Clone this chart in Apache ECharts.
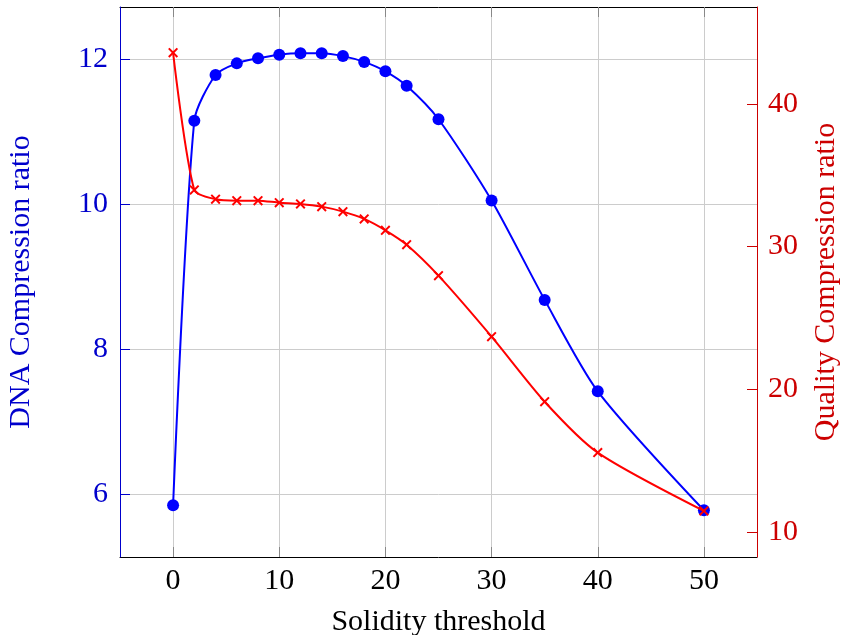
<!DOCTYPE html>
<html>
<head>
<meta charset="utf-8">
<script src="https://cdn.jsdelivr.net/npm/echarts@6/dist/echarts.min.js"></script>
<style>html,body{margin:0;padding:0;background:#fff;}#c{width:843px;height:635px;}</style>
</head>
<body>
<div id="c"></div>
<script>
var thresholds = [0, 2, 4, 6, 8, 10, 12, 14, 16, 18, 20, 22, 25, 30, 35, 40, 50];
var dnaRatio = [5.85, 11.15, 11.78, 11.94, 12.01, 12.06, 12.08, 12.08, 12.04, 11.96, 11.83, 11.63, 11.17, 10.05, 8.68, 7.42, 5.78];
var qualityRatio = [43.6, 33.97, 33.32, 33.22, 33.22, 33.08, 32.99, 32.80, 32.45, 31.94, 31.14, 30.13, 27.96, 23.68, 19.12, 15.55, 11.46];
var xTitle = 'Solidity threshold';
var leftTitle = 'DNA Compression ratio';
var rightTitle = 'Quality Compression ratio';

var FONT = 'Liberation Serif';
var BLUE = '#0000ff', BLUE_T = '#0000cc';
var RED = '#ff0000', RED_T = '#cc0000';
var crossPath = 'path://M0,1.4L1.4,0L5,3.6L8.6,0L10,1.4L6.4,5L10,8.6L8.6,10L5,6.4L1.4,10L0,8.6L3.6,5Z';

function pairs(xs, ys) { return xs.map(function (x, i) { return [x, ys[i]]; }); }
function tenFmt(v) { return (Math.abs(v % 10) < 1e-9) ? String(v) : ''; }

var chart = echarts.init(document.getElementById('c'), null, { renderer: 'canvas' });
chart.setOption({
  animation: false,
  backgroundColor: '#fff',
  grid: { left: 120, right: 86, top: 7, bottom: 78, containLabel: false, outerBoundsMode: 'none' },
  xAxis: [{
    type: 'value', min: -5, max: 55, splitNumber: 6, position: 'bottom', z: 0,
    name: xTitle, nameLocation: 'middle', nameGap: 50,
    nameTextStyle: { fontFamily: FONT, fontSize: 30, color: '#000' },
    axisLine: { show: true, onZero: false, lineStyle: { color: '#000', width: 1 } },
    axisTick: { show: true, inside: true, length: 10, lineStyle: { color: '#888', width: 1 } },
    axisLabel: { formatter: tenFmt, showMinLabel: false, showMaxLabel: false, margin: 9,
      fontFamily: FONT, fontSize: 30, color: '#000' },
    splitLine: { show: true, showMinLine: false, showMaxLine: false, lineStyle: { color: '#cccccc', width: 1 } }
  }, {
    type: 'value', min: -5, max: 55, splitNumber: 6, position: 'top', z: 0,
    axisLine: { show: true, onZero: false, lineStyle: { color: '#000', width: 1 } },
    axisTick: { show: true, inside: true, length: 10, lineStyle: { color: '#888', width: 1 } },
    axisLabel: { show: false },
    splitLine: { show: false }
  }],
  yAxis: [{
    type: 'value', min: 5.136, max: 12.717, splitNumber: 4, position: 'left', z: 1,
    name: leftTitle, nameLocation: 'middle', nameRotate: 90, nameGap: 84,
    nameTextStyle: { fontFamily: FONT, fontSize: 30, color: BLUE_T },
    axisLine: { show: true, onZero: false, lineStyle: { color: BLUE_T, width: 1 } },
    axisTick: { show: true, inside: true, length: 10, lineStyle: { color: BLUE_T, width: 1 } },
    axisLabel: { showMinLabel: false, showMaxLabel: false, margin: 12,
      fontFamily: FONT, fontSize: 30, color: BLUE_T },
    splitLine: { show: true, showMinLine: false, showMaxLine: false, lineStyle: { color: '#cccccc', width: 1 } }
  }, {
    type: 'value', min: 8.23, max: 46.8, splitNumber: 4, position: 'right', z: 1,
    name: rightTitle, nameLocation: 'middle', nameRotate: 90, nameGap: 54,
    nameTextStyle: { fontFamily: FONT, fontSize: 30, color: RED_T },
    axisLine: { show: true, onZero: false, lineStyle: { color: RED_T, width: 1 } },
    axisTick: { show: true, inside: true, length: 10, lineStyle: { color: RED_T, width: 1 } },
    axisLabel: { showMinLabel: false, showMaxLabel: false, margin: 11,
      fontFamily: FONT, fontSize: 30, color: RED_T },
    splitLine: { show: false }
  }],
  series: [{
    name: leftTitle, type: 'line', xAxisIndex: 0, yAxisIndex: 0, z: 3,
    data: pairs(thresholds, dnaRatio), smooth: 0.25,
    lineStyle: { color: BLUE, width: 2 },
    itemStyle: { color: BLUE },
    symbol: 'circle', symbolSize: 12, showAllSymbol: true
  }, {
    name: rightTitle, type: 'line', xAxisIndex: 0, yAxisIndex: 1, z: 4,
    data: pairs(thresholds, qualityRatio), smooth: 0.25,
    lineStyle: { color: RED, width: 2 },
    itemStyle: { color: RED },
    symbol: crossPath, symbolSize: 10, showAllSymbol: true
  }]
});
</script>
</body>
</html>
